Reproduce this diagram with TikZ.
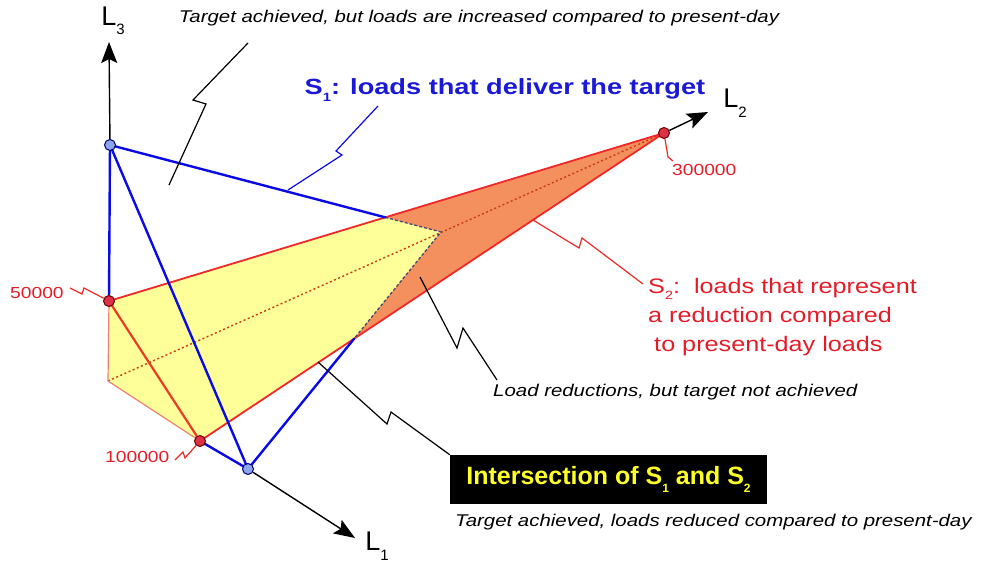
\documentclass[tikz,border=0pt]{standalone}
\usepackage{fontspec}
\setmainfont{Liberation Sans}
\usetikzlibrary{arrows.meta}
\definecolor{sblue}{RGB}{25,25,215}
\definecolor{lblue}{RGB}{10,10,230}
\definecolor{ered}{RGB}{240,40,40}
\definecolor{fred}{RGB}{235,60,35}
\definecolor{tred}{RGB}{228,28,40}
\definecolor{yfill}{RGB}{255,255,153}
\definecolor{ofill}{RGB}{244,144,94}
\definecolor{pedge}{RGB}{238,128,112}
\definecolor{dashc}{RGB}{70,70,115}
\definecolor{dotc}{RGB}{200,60,20}
\definecolor{cblue}{RGB}{140,165,240}
\definecolor{cred}{RGB}{220,50,70}
\definecolor{tyellow}{RGB}{255,255,40}
\newcommand\axsub[1]{\raisebox{-0.35em}{\fontsize{15}{15}\selectfont #1}}
\newcommand\ssub[1]{\raisebox{-0.3em}{\fontsize{12}{12}\selectfont #1}}
\begin{document}
\begin{tikzpicture}[x=1pt,y=-1pt,
  txt/.style={inner sep=0pt,xscale=1.2},
  note/.style={txt,font=\fontsize{17}{20}\selectfont\itshape},
  num/.style={txt,text=tred,font=\fontsize{16}{18}\selectfont},
  axlab/.style={inner sep=0pt,font=\fontsize{27}{30}\selectfont},
  axisarrow/.style={line width=1.4pt,-{Stealth[length=21pt,width=16pt,inset=4pt]}},
  s1edge/.style={lblue,line width=2.4pt,line cap=round},
  hiddenedge/.style={dashc,line width=1.3pt,dash pattern=on 3pt off 2pt},
  callk/.style={black,line width=1.2pt},
  callr/.style={ered,line width=1.2pt},
  callb/.style={lblue,line width=1.2pt},
  bdot/.style={circle,draw=blue!40!black,fill=cblue,line width=1pt,minimum size=11pt,inner sep=0pt},
  rdot/.style={circle,draw=red!40!black,fill=cred,line width=1pt,minimum size=11pt,inner sep=0pt},
]
\useasboundingbox (0,0) rectangle (982,562);
% geometry
\coordinate (O) at (108,381);
\coordinate (P3) at (109,301);
\coordinate (P1) at (200,441);
\coordinate (P2) at (664,133);
\coordinate (Q3) at (110,145);
\coordinate (Q1) at (248,469);
\coordinate (Q2) at (441,232);
\coordinate (X1) at (intersection of Q3--Q2 and P3--P2);
\coordinate (X2) at (intersection of Q1--Q2 and P1--P2);
% fills
\fill[yfill] (O) -- (P3) -- (X1) -- (Q2) -- (X2) -- (P1) -- cycle;
\fill[ofill] (X1) -- (P2) -- (X2) -- (Q2) -- cycle;
% hidden L2 axis
\draw[dotc,line width=1.4pt,dash pattern=on 2pt off 2.5pt] (O) -- (P2);
% S2 edges
\draw[pedge,line width=1.2pt] (P3) -- (O) -- (P1);
\draw[ered,line width=1.8pt] (P3) -- (P2) -- (P1);
\draw[fred,line width=2.2pt] (P3) -- (P1);
% S1 edges
\draw[hiddenedge] (X1) -- (Q2) -- (X2);
\draw[s1edge] (Q3) -- (X1);
\draw[s1edge] (X2) -- (Q1);
\draw[s1edge] (Q3) -- (Q1);
\draw[s1edge] (Q3) -- (P3);
\draw[s1edge] (P1) -- (Q1);
% dots
\node[bdot] (q3) at (Q3) {};
\node[bdot] (q1) at (Q1) {};
\node[rdot] (p3) at (P3) {};
\node[rdot] (p1) at (P1) {};
\node[rdot] (p2) at (P2) {};
% axes
\coordinate (L3tip) at (109,42);
\coordinate (L2tip) at (708,112);
\coordinate (L1tip) at (355,538);
\draw[axisarrow] (q3) -- (L3tip);
\draw[axisarrow] (p2) -- (L2tip);
\draw[axisarrow] (q1) -- (L1tip);
\node[axlab] (l3) at (113,21) {L\axsub{3}};
\node[axlab] (l2) at (735,103) {L\axsub{2}};
\node[axlab] (l1) at (377,546) {L\axsub{1}};
% texts
\node[note] (tn1) at (479,18) {Target achieved, but loads are increased compared to present-day};
\node[txt,xscale=1.03,text=sblue,font=\fontsize{22}{24}\selectfont\bfseries] (s1lab) at (505,90) {S\ssub{1}: loads that deliver the target};
\node[txt,text=tred,font=\fontsize{21}{29}\selectfont,align=left,anchor=north west] (s2lab) at (648,278) {S\ssub{2}:\ \ loads that represent\\a reduction compared\\\hspace*{5pt}to present-day loads};
\node[note,anchor=west] (tn2) at (493,392) {Load reductions, but target not achieved};
\node[fill=black,text=tyellow,minimum width=317pt,minimum height=49pt,inner sep=0pt,font=\fontsize{25}{27}\selectfont\bfseries] (inter) at (608.5,479.5) {Intersection of S\ssub{1} and S\ssub{2}};
\node[note,anchor=west] (tn3) at (455,522) {Target achieved, loads reduced compared to present-day};
\node[num,anchor=west] (n50) at (10,293) {50000};
\node[num,anchor=west] (n100) at (105,457) {100000};
\node[num,anchor=west] (n300) at (672,170) {300000};
% callouts
\coordinate (c1a) at (248,43);
\coordinate (c1d) at (169,185);
\draw[callk] (c1a) -- (193,100) -- (206,104) -- (c1d);
\coordinate (c2a) at (378,106);
\coordinate (c2d) at (288,190);
\draw[callb] (c2a) -- (336,151) -- (342,155) -- (c2d);
\coordinate (c3a) at (533,220);
\coordinate (c3d) at (643,284);
\draw[callr] (c3a) -- (579,248) -- (582,238) -- (c3d);
\coordinate (c4a) at (420,277);
\coordinate (c4d) at (497,380);
\draw[callk] (c4a) -- (457,348) -- (463,328) -- (c4d);
\coordinate (c5a) at (318,362);
\coordinate (c5d) at (inter.north west);
\draw[callk] (c5a) -- (387,424) -- (391,412) -- (c5d);
\coordinate (c6a) at (70,288);
\draw[callr] (c6a) -- (82,294) -- (84,288) -- (p3);
\coordinate (c7a) at (175,460);
\draw[callr] (c7a) -- (183,452) -- (185,458) -- (p1);
\coordinate (c8d) at (673,161);
\draw[callr] (p2) -- (668,157) -- (c8d);
\end{tikzpicture}
\end{document}
